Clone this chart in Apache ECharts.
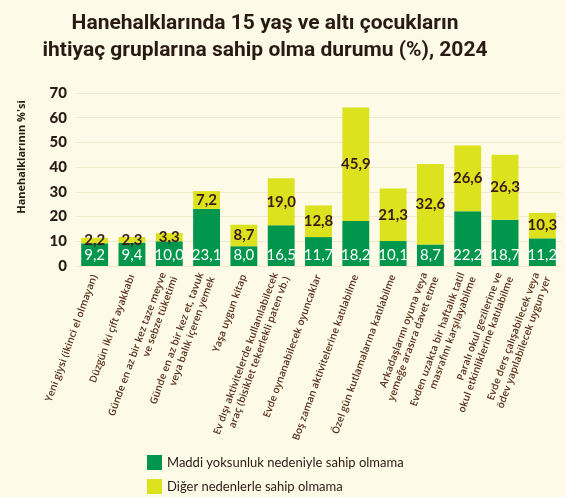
<!DOCTYPE html>
<html><head><meta charset="utf-8">
<script src="https://cdn.jsdelivr.net/npm/echarts@6/dist/echarts.min.js"></script>
<style>html,body{margin:0;padding:0;background:#fdfbe7;}#c{width:566px;height:497px;}</style>
</head><body><div id="c"></div>
<script>
const categories = [
  "Yeni giysi (ikinci el olmayan)",
  "Düzgün iki çift ayakkabı",
  "Günde en az bir kez taze meyve\nve sebze tüketimi",
  "Günde en az bir kez et, tavuk\nveya balık içeren yemek",
  "Yaşa uygun kitap",
  "Ev dışı aktivitelerde kullanılabilecek\naraç (bisiklet tekerlekli paten vb.)",
  "Evde oynanabilecek oyuncaklar",
  "Boş zaman aktivitelerine katılabilme",
  "Özel gün kutlamalarına katılabilme",
  "Arkadaşlarını oyuna veya\nyemeğe arasıra davet etme",
  "Evden uzakta bir haftalık tatil\nmasrafını karşılayabilme",
  "Paralı okul gezilerine ve\nokul etkinliklerine katılabilme",
  "Evde ders çalışabilecek veya\nödev yapılabilecek uygun yer"
];
const materialValues = [9.2, 9.4, 10.0, 23.1, 8.0, 16.5, 11.7, 18.2, 10.1, 8.7, 22.2, 18.7, 11.2];
const otherValues = [2.2, 2.3, 3.3, 7.2, 8.7, 19.0, 12.8, 45.9, 21.3, 32.6, 26.6, 26.3, 10.3];
const yTicks = [0, 10, 20, 30, 40, 50, 60, 70];
const seriesNames = ["Maddi yoksunluk nedeniyle sahip olmama", "Diğer nedenlerle sahip olmama"];

const fmt = p => p.value.toFixed(1).replace('.', ',');
const chart = echarts.init(document.getElementById('c'), null, {renderer: 'canvas'});
chart.setOption({
  backgroundColor: '#fdfbe7',
  animation: false,
  title: {
    text: "Hanehalklarında 15 yaş ve altı çocukların\nihtiyaç gruplarına sahip olma durumu (%), 2024",
    left: 260, top: 5, textAlign: 'center',
    textStyle: {fontFamily: 'Roboto', fontWeight: 'bold', fontSize: 21, lineHeight: 27, color: '#2a1a14'}
  },
  graphic: [{
    type: 'text', x: 22, y: 157, rotation: Math.PI / 2,
    style: {text: "Hanehalklarının %'si", fontFamily: 'Open Sans', fontWeight: 'bold', fontSize: 11,
      fill: '#2a1a14', textAlign: 'center', textVerticalAlign: 'middle'}
  }],
  legend: {
    orient: 'vertical', left: 147, top: 455, padding: 0, itemWidth: 15, itemHeight: 15, itemGap: 9,
    icon: 'rect',
    textStyle: {fontFamily: 'Lato', fontSize: 13, color: '#2a1a14'},
    data: seriesNames
  },
  grid: {left: 76, right: 5, top: 93, bottom: 231, containLabel: false},
  xAxis: {
    type: 'category', data: categories,
    axisLine: {show: false}, axisTick: {show: false},
    axisLabel: {rotate: 70, interval: 0, margin: 9, fontFamily: 'Open Sans', fontWeight: 600, fontSize: 10,
      lineHeight: 12, color: '#5a3020'}
  },
  yAxis: {
    type: 'value', min: 0, max: 70, interval: 10,
    axisLine: {show: false}, axisTick: {show: false},
    splitLine: {lineStyle: {color: '#efebcf', width: 1}},
    axisLabel: {fontFamily: 'Lato', fontWeight: 900, fontSize: 15, color: '#2a1a14', margin: 9,
      formatter: v => yTicks.includes(v) ? String(v) : ''}
  },
  series: [
    {
      name: seriesNames[0], type: 'bar', stack: 's', data: materialValues, barWidth: '72%',
      itemStyle: {color: '#00964b'},
      label: {show: true, position: 'insideBottom', distance: 3, formatter: fmt,
        fontFamily: 'Lato', fontSize: 15, color: '#ffffff'}
    },
    {
      name: seriesNames[1], type: 'bar', stack: 's', data: otherValues, barWidth: '72%',
      itemStyle: {color: '#dde21f'},
      label: {show: true, position: 'inside', formatter: fmt,
        fontFamily: 'Lato', fontWeight: 'bold', fontSize: 15, color: '#3a1c18'}
    }
  ]
});
</script></body></html>
